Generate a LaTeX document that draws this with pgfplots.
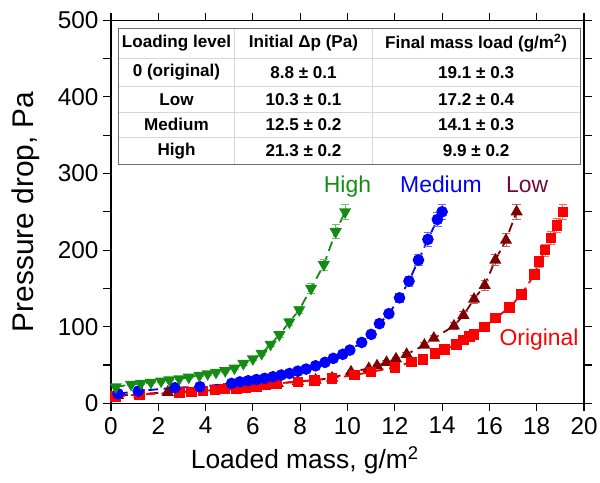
\documentclass[border=0pt]{standalone}
\usepackage{fontspec}
\setmainfont{Liberation Sans}
\usepackage{pgfplots}
\pgfplotsset{compat=1.18}
\definecolor{cred}{RGB}{255,0,0}
\definecolor{clow}{RGB}{128,0,0}
\definecolor{clowtxt}{RGB}{110,10,60}
\definecolor{cmed}{RGB}{0,0,255}
\definecolor{chigh}{RGB}{20,140,20}
\definecolor{tabline}{RGB}{215,215,215}
\definecolor{tabborder}{RGB}{110,110,110}
\begin{document}
\begin{tikzpicture}
\path[use as bounding box] (-79.9pt,-56.7pt) rectangle (352.1pt,290.4pt);
\begin{axis}[
  scale only axis,
  width=340.6pt, height=275.8pt,
  xmin=0, xmax=20, ymin=0, ymax=500,
  xtick={0,2,...,20},
  ytick={0,100,...,500},
  minor ytick={50,150,250,350,450},
  tick align=outside,
  major tick length=5.5pt, minor tick length=5.5pt,
  every tick/.style={black, line width=0.8pt},
  axis line style={black, line width=0.9pt},
  /pgf/number format/assume math mode=true,
  ticklabel style={font=\fontsize{17.5}{20}\selectfont},
  xticklabel style={yshift=-1pt},
  xlabel={Loaded mass, g/m\textsuperscript{2}},
  ylabel={Pressure drop, Pa},
  xlabel style={font=\fontsize{19}{22}\selectfont, at={(axis description cs:0.41,-0.17)}, anchor=base},
  ylabel style={font=\fontsize{21.5}{24}\selectfont, at={(axis description cs:-0.18,0.5)}, anchor=center},
  error bars/y dir=both,
  error bars/y fixed relative=0.04,
  error bars/error mark options={rotate=90, mark size=3pt, line width=0.6pt},
  clip=false,
]
% Low
\addplot[clow, line width=1.3pt, dash pattern=on 7pt off 4pt, mark=triangle*, mark size=3.8pt, mark options={solid},
  error bars/error bar style={clow!60, line width=0.6pt, solid}] coordinates {
(0.3,10.3) (1.2,12) (2.4,14.5) (4.75,17.5) (5.4,18.5) (5.75,20) (6.1,21.5) (6.6,24) (7.05,26) (7.9,28.5) (8.65,30.5) (9.35,33) (10.15,41) (10.9,45.5) (11.25,49) (11.65,53.5) (12.05,58) (12.5,64) (13.25,76) (13.65,85) (14.5,101) (14.9,115) (15.35,136) (15.8,154) (16.25,187) (16.7,213) (17.15,250)
};
% Original
\addplot[cred, line width=1.3pt, dash pattern=on 7pt off 4pt, mark=square*, mark size=3.1pt, mark options={solid},
  error bars/error bar style={cred!60, line width=0.6pt, solid}] coordinates {
(0.2,8.8) (1.2,11.5) (2.9,14) (3.4,15) (3.9,16.4) (4.4,17.3) (4.8,18.5) (5.3,19.5) (5.7,20.5) (6.15,22) (6.55,24) (7.0,26) (7.9,28) (8.6,30) (9.35,32.6) (10.3,37) (11.0,41) (12.0,47) (12.7,54) (13.2,57) (13.7,65) (14.1,70) (14.6,77) (14.9,82.5) (15.15,87) (15.35,90) (15.8,100) (16.25,111) (16.85,125) (17.35,142) (17.9,168) (18.1,185) (18.35,200) (18.6,216) (18.85,232) (19.1,250)
};
% Medium
\addplot[cmed, line width=1.3pt, dash pattern=on 7pt off 4pt, mark=*, mark size=3.5pt, mark options={solid},
  error bars/error bar style={cmed!60, line width=0.6pt, solid}] coordinates {
(0.3,12.5) (1.15,16) (2.7,20.4) (3.76,21.7) (5.1,26) (5.45,28) (5.8,29.5) (6.15,31) (6.5,32.6) (6.85,34.7) (7.2,37) (7.55,39) (7.9,42) (8.25,44.7) (8.65,49) (9.05,53.5) (9.4,58.7) (9.8,64) (10.1,69.5) (10.6,79.5) (11.0,90) (11.35,104) (11.75,117) (12.2,137.7) (12.6,159.5) (13.0,187) (13.4,214) (13.8,240) (14.0,250)
};
% High
\addplot[chigh, line width=1.3pt, dash pattern=on 7pt off 4pt, mark=triangle*, mark size=3.8pt, mark options={solid, rotate=180},
  error bars/error bar style={chigh!60, line width=0.6pt, solid}] coordinates {
(0.2,21.3) (0.85,24.7) (1.27,26) (1.69,27.3) (2.12,29) (2.47,30.5) (2.89,32) (3.29,34) (3.74,36.5) (4.09,38.5) (4.44,40.5) (4.83,42.5) (5.22,46) (5.6,52) (6.0,58) (6.37,65) (6.75,77) (7.12,89.5) (7.54,106) (7.96,122) (8.46,150) (9.0,181) (9.5,224) (9.9,250)
};
% curve labels
\node[anchor=base, text=chigh, font=\fontsize{16.5}{19}\selectfont] at (axis cs:10.0,275.5) {High};
\node[anchor=base, text=cmed, font=\fontsize{16.5}{19}\selectfont] at (axis cs:13.95,275.5) {Medium};
\node[anchor=base, text=clowtxt, font=\fontsize{16.5}{19}\selectfont] at (axis cs:17.6,275.5) {Low};
\node[anchor=base, text=cred, font=\fontsize{16.5}{19}\selectfont] at (axis cs:18.1,76) {Original};
% table
\fill[white] (axis cs:0.3,312) rectangle (axis cs:19.83,489.4);
\draw[tabline, line width=0.6pt] (axis cs:0.3,450.2) -- (axis cs:19.83,450.2);
\draw[tabline, line width=0.6pt] (axis cs:0.3,413.7) -- (axis cs:19.83,413.7);
\draw[tabline, line width=0.6pt] (axis cs:0.3,379.8) -- (axis cs:19.83,379.8);
\draw[tabline, line width=0.6pt] (axis cs:0.3,347.2) -- (axis cs:19.83,347.2);
\draw[tabline, line width=0.6pt] (axis cs:5.24,312) -- (axis cs:5.24,489.4);
\draw[tabline, line width=0.6pt] (axis cs:11.04,312) -- (axis cs:11.04,489.4);
\draw[tabborder, line width=0.7pt] (axis cs:0.3,312) rectangle (axis cs:19.83,489.4);
\begin{scope}[every node/.style={font=\fontsize{12.3}{14}\selectfont\bfseries, anchor=center}]
\node at (axis cs:2.77,469.8) {Loading level};
\node at (axis cs:8.14,469.8) {Initial Δp (Pa)};
\node at (axis cs:15.44,469.8) {Final mass load (g/m\textsuperscript{2})};
\node at (axis cs:2.77,432) {0 (original)};
\node at (axis cs:8.14,432) {8.8 ± 0.1};
\node at (axis cs:15.44,432) {19.1 ± 0.3};
\node at (axis cs:2.77,396.8) {Low};
\node at (axis cs:8.14,396.8) {10.3 ± 0.1};
\node at (axis cs:15.44,396.8) {17.2 ± 0.4};
\node at (axis cs:2.77,363.5) {Medium};
\node at (axis cs:8.14,363.5) {12.5 ± 0.2};
\node at (axis cs:15.44,363.5) {14.1 ± 0.3};
\node at (axis cs:2.77,329.6) {High};
\node at (axis cs:8.14,329.6) {21.3 ± 0.2};
\node at (axis cs:15.44,329.6) {9.9 ± 0.2};
\end{scope}
\end{axis}
\end{tikzpicture}
\end{document}
